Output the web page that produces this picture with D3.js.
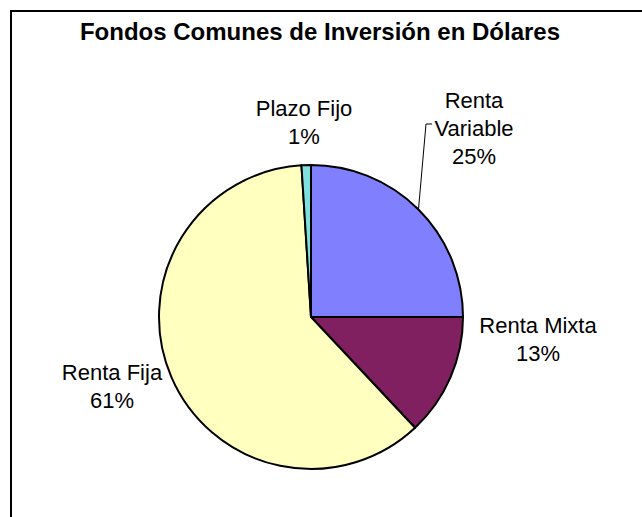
<!DOCTYPE html>
<html>
<head>
<meta charset="utf-8">
<script src="https://cdn.jsdelivr.net/npm/d3@7/dist/d3.min.js"></script>
<style>
  html, body { margin: 0; padding: 0; background: #fff; }
  svg { display: block; }
  text { font-family: "Liberation Sans", Arial, sans-serif; fill: #000; }
</style>
</head>
<body>
<svg id="chart" width="642" height="517"></svg>
<script>
// Fund categories and their share of the portfolio (%)
const categories = ["Renta Variable", "Renta Mixta", "Renta Fija", "Plazo Fijo"];
const shares = [25, 13, 61, 1];
const labelLines = [["Renta", "Variable"], ["Renta Mixta"], ["Renta Fija"], ["Plazo Fijo"]];
const colors = ["#8080FF", "#802060", "#FFFFC0", "#80E0E0"];

// Label anchors (centre x, first baseline y), relative to the pie centre
const labelOffsets = [[163, -209], [227, 16], [-199, 63], [-7, -201]];

const svg = d3.select("#chart");
const W = 642, H = 517;
const cx = 311, cy = 317, radius = 152;

// Chart frame
svg.append("rect")
  .attr("x", 11).attr("y", 11)
  .attr("width", W + 20).attr("height", H + 20)
  .attr("fill", "#fff")
  .attr("stroke", "#000")
  .attr("stroke-width", 2);

// Title
svg.append("text")
  .attr("x", 320).attr("y", 40)
  .attr("text-anchor", "middle")
  .attr("font-size", 24)
  .attr("font-weight", "bold")
  .text("Fondos Comunes de Inversión en Dólares");

const data = categories.map((c, i) => ({ name: c, value: shares[i], color: colors[i], lines: labelLines[i], off: labelOffsets[i] }));

const pie = d3.pie().value(d => d.value).sort(null).startAngle(0).endAngle(2 * Math.PI);
const arcs = pie(data);
const arc = d3.arc().innerRadius(0).outerRadius(radius);
const edgeArc = d3.arc().innerRadius(radius).outerRadius(radius);

const g = svg.append("g").attr("transform", `translate(${cx},${cy})`);

g.selectAll("path.slice")
  .data(arcs)
  .join("path")
  .attr("class", "slice")
  .attr("d", arc)
  .attr("fill", d => d.data.color)
  .attr("stroke", "#000")
  .attr("stroke-width", 2)
  .attr("stroke-linejoin", "round");

const fontSize = 22, lineH = 28;

const labels = g.selectAll("g.label")
  .data(arcs)
  .join("g")
  .attr("class", "label")
  .attr("transform", d => `translate(${d.data.off[0]},${d.data.off[1]})`);

labels.each(function (d) {
  const sel = d3.select(this);
  const lines = d.data.lines.concat([d.data.value + "%"]);
  lines.forEach((t, k) => {
    sel.append("text")
      .attr("x", 0)
      .attr("y", k * lineH)
      .attr("text-anchor", "middle")
      .attr("font-size", fontSize)
      .text(t);
  });
});

// Leader line from the Renta Variable slice to its label
const v = arcs[0];
const [ex, ey] = edgeArc.centroid(v);
const lx = v.data.off[0] - 48, ly = v.data.off[1] + lineH - 12;
g.append("path")
  .attr("d", d3.line()([[ex, ey], [lx, ly], [lx + 6, ly]]))
  .attr("fill", "none")
  .attr("stroke", "#000")
  .attr("stroke-width", 1);
</script>
</body>
</html>
